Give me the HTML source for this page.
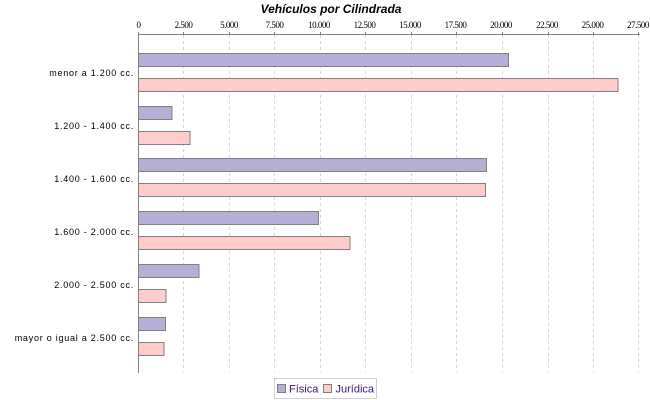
<!DOCTYPE html>
<html>
<head>
<meta charset="utf-8">
<style>
html,body{margin:0;padding:0;background:#fff;}
svg{display:block;}
.tick{font-family:"Liberation Serif",serif;font-size:9px;letter-spacing:-0.5px;fill:#000;}
.cat{font-family:"Liberation Sans",sans-serif;font-size:9px;letter-spacing:0.75px;fill:#000;}
</style>
</head>
<body>
<svg width="650" height="400" viewBox="0 0 650 400" xmlns="http://www.w3.org/2000/svg">
<rect x="0" y="0" width="650" height="400" fill="#fff"/>
<text x="331" y="13" text-anchor="middle" font-family="Liberation Sans, sans-serif" font-size="12" font-weight="bold" font-style="italic" fill="#000">Vehículos por Cilindrada</text>

<!-- grid lines -->
<g stroke="#d4d4d4" stroke-width="1" stroke-dasharray="3,3">
<line x1="183.5" y1="35" x2="183.5" y2="372"/>
<line x1="229.5" y1="35" x2="229.5" y2="372"/>
<line x1="274.5" y1="35" x2="274.5" y2="372"/>
<line x1="320.5" y1="35" x2="320.5" y2="372"/>
<line x1="365.5" y1="35" x2="365.5" y2="372"/>
<line x1="411.5" y1="35" x2="411.5" y2="372"/>
<line x1="456.5" y1="35" x2="456.5" y2="372"/>
<line x1="502.5" y1="35" x2="502.5" y2="372"/>
<line x1="548.5" y1="35" x2="548.5" y2="372"/>
<line x1="593.5" y1="35" x2="593.5" y2="372"/>
<line x1="638.5" y1="35" x2="638.5" y2="372"/>
</g>

<!-- axes -->
<line x1="138" y1="34.5" x2="640" y2="34.5" stroke="#808080" stroke-width="1"/>
<line x1="138.5" y1="34" x2="138.5" y2="373" stroke="#808080" stroke-width="1"/>
<g stroke="#808080" stroke-width="1">
<line x1="138.5" y1="32" x2="138.5" y2="34"/>
<line x1="183.5" y1="32" x2="183.5" y2="34"/>
<line x1="229.5" y1="32" x2="229.5" y2="34"/>
<line x1="274.5" y1="32" x2="274.5" y2="34"/>
<line x1="320.5" y1="32" x2="320.5" y2="34"/>
<line x1="365.5" y1="32" x2="365.5" y2="34"/>
<line x1="411.5" y1="32" x2="411.5" y2="34"/>
<line x1="456.5" y1="32" x2="456.5" y2="34"/>
<line x1="502.5" y1="32" x2="502.5" y2="34"/>
<line x1="548.5" y1="32" x2="548.5" y2="34"/>
<line x1="593.5" y1="32" x2="593.5" y2="34"/>
<line x1="638.5" y1="32" x2="638.5" y2="34"/>
</g>

<!-- tick labels -->
<g class="tick" text-anchor="middle">
<text x="138.5" y="28">0</text>
<text x="183.5" y="28">2.500</text>
<text x="229" y="28">5.000</text>
<text x="274.5" y="28">7.500</text>
<text x="319" y="28">10.000</text>
<text x="364.5" y="28">12.500</text>
<text x="410" y="28">15.000</text>
<text x="455.5" y="28">17.500</text>
<text x="501" y="28">20.000</text>
<text x="547" y="28">22.500</text>
<text x="592.5" y="28">25.000</text>
<text x="638" y="28">27.500</text>
</g>

<!-- bars -->
<g stroke="#808080" stroke-width="1">
<rect x="138.5" y="53.5" width="370" height="13" fill="#b7aed6"/>
<rect x="138.5" y="78.5" width="479.5" height="13" fill="#ffcccc"/>
<rect x="138.5" y="106.5" width="33.5" height="13" fill="#b7aed6"/>
<rect x="138.5" y="131.5" width="51.5" height="13" fill="#ffcccc"/>
<rect x="138.5" y="158.5" width="348" height="13" fill="#b7aed6"/>
<rect x="138.5" y="183.5" width="347" height="13" fill="#ffcccc"/>
<rect x="138.5" y="211.5" width="180" height="13" fill="#b7aed6"/>
<rect x="138.5" y="236.5" width="211.5" height="13" fill="#ffcccc"/>
<rect x="138.5" y="264.5" width="60.5" height="13" fill="#b7aed6"/>
<rect x="138.5" y="289.5" width="27.5" height="13" fill="#ffcccc"/>
<rect x="138.5" y="317.5" width="27" height="13" fill="#b7aed6"/>
<rect x="138.5" y="342.5" width="25.5" height="13" fill="#ffcccc"/>
</g>

<!-- category labels -->
<g class="cat" text-anchor="end">
<text x="134" y="76">menor a 1.200 cc.</text>
<text x="134" y="129">1.200 - 1.400 cc.</text>
<text x="134" y="182">1.400 - 1.600 cc.</text>
<text x="134" y="235">1.600 - 2.000 cc.</text>
<text x="134" y="288">2.000 - 2.500 cc.</text>
<text x="134" y="341">mayor o igual a 2.500 cc.</text>
</g>

<!-- legend -->
<rect x="274.5" y="378.5" width="102" height="20" fill="#fff" stroke="#d0d0d0" stroke-width="1"/>
<rect x="277.5" y="384.5" width="8" height="8" fill="#b7aed6" stroke="#808080" stroke-width="1"/>
<text x="289" y="392.5" font-family="Liberation Sans, sans-serif" font-size="11" fill="#3b1573">Física</text>
<rect x="323.5" y="384.5" width="8" height="8" fill="#ffcccc" stroke="#808080" stroke-width="1"/>
<text x="335.5" y="392.5" font-family="Liberation Sans, sans-serif" font-size="11" fill="#3b1573">Jurídica</text>
</svg>
</body>
</html>
